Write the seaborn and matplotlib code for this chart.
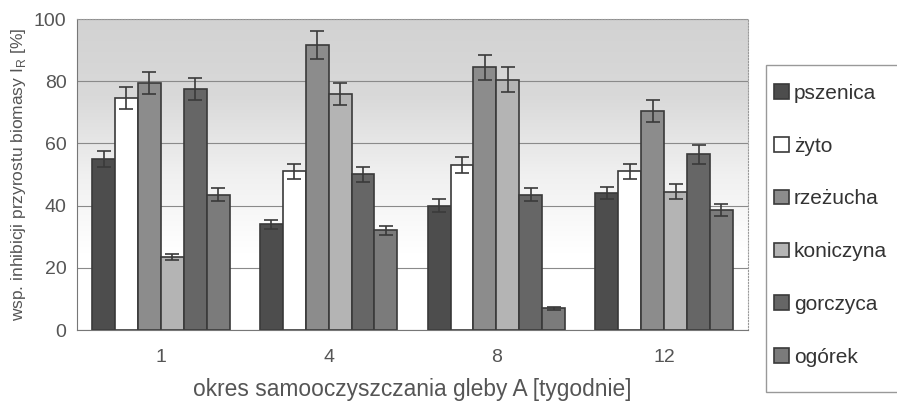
import numpy as np
import pandas as pd
import seaborn as sns
import matplotlib.pyplot as plt
from matplotlib.patches import Rectangle

weeks = ['1', '4', '8', '12']
plants = ['pszenica', 'żyto', 'rzeżucha', 'koniczyna', 'gorczyca', 'ogórek']

pszenica = [55, 34, 40, 44]
zyto = [74.5, 51, 53, 51]
rzezucha = [79.5, 91.5, 84.5, 70.5]
koniczyna = [23.5, 76, 80.5, 44.5]
gorczyca = [77.5, 50, 43.5, 56.5]
ogorek = [43.5, 32, 7, 38.5]

err_pszenica = [2.5, 1.5, 2, 2]
err_zyto = [3.5, 2.5, 2.5, 2.5]
err_rzezucha = [3.5, 4.5, 4, 3.5]
err_koniczyna = [1, 3.5, 4, 2.5]
err_gorczyca = [3.5, 2.5, 2, 3]
err_ogorek = [2, 1.5, 0.5, 2]

values = [pszenica, zyto, rzezucha, koniczyna, gorczyca, ogorek]
errors = [err_pszenica, err_zyto, err_rzezucha, err_koniczyna, err_gorczyca, err_ogorek]

rows = []
for p, vals in zip(plants, values):
    for w, v in zip(weeks, vals):
        rows.append({'okres': w, 'roslina': p, 'wartosc': v})
df = pd.DataFrame(rows)

colors = ['#4d4d4d', '#ffffff', '#8c8c8c', '#b4b4b4', '#666666', '#7b7b7b']
txt = '#555555'

sns.set_style('white')
plt.rcParams['font.family'] = ['Liberation Sans', 'DejaVu Sans']

fig = plt.figure(figsize=(8.97, 4.15), dpi=100)
ax = fig.add_axes([77 / 897, 1 - 330 / 415, (748 - 77) / 897, (330 - 19) / 415])

# gradient background: grey at top, white at bottom
grad = np.linspace(0, 1, 256).reshape(-1, 1)
ax.imshow(grad, extent=[-0.5, 3.5, 0, 100], aspect='auto', origin='lower',
          cmap=plt.matplotlib.colors.LinearSegmentedColormap.from_list(
              'bg', ['#ffffff', '#ffffff', '#f0f0f0', '#d9d9d9', '#d2d2d2']),
          zorder=0)

sns.barplot(data=df, x='okres', y='wartosc', hue='roslina', palette=colors,
            width=0.82, edgecolor='#3a3a3a', linewidth=1.2, errorbar=None,
            ax=ax, zorder=2)

for cont, err in zip(ax.containers, errors):
    xs = [b.get_x() + b.get_width() / 2 for b in cont]
    hs = [b.get_height() for b in cont]
    ax.errorbar(xs, hs, yerr=err, fmt='none', ecolor='#3a3a3a',
                elinewidth=1.2, capsize=5, capthick=1.2, zorder=3)

ax.set_ylim(0, 100)
ax.set_xlim(-0.5, 3.5)
ax.set_yticks([0, 20, 40, 60, 80, 100])
ax.yaxis.grid(True, color='#8a8a8a', linewidth=0.8, zorder=1)
ax.set_axisbelow(True)
ax.set_xticks([-0.5, 0.5, 1.5, 2.5, 3.5], minor=True)
ax.tick_params(axis='x', which='major', length=0, labelsize=14, colors=txt, pad=14)
ax.tick_params(axis='x', which='minor', length=4, color='#888888')
ax.tick_params(axis='y', length=4, labelsize=14, colors=txt, color='#888888')

for side in ['top', 'right']:
    ax.spines[side].set_linestyle(':')
    ax.spines[side].set_color('#999999')
for side in ['left', 'bottom']:
    ax.spines[side].set_color('#777777')

ax.set_xlabel('okres samooczyszczania gleby A [tygodnie]', fontsize=16.4, color=txt, labelpad=8)
ax.set_ylabel('wsp. inhibicji przyrostu biomasy I$_\\mathregular{R}$ [%]', fontsize=12.5, color=txt,
              labelpad=4)

# legend frame drawn separately so the box can run off the right edge
fig.patches.append(Rectangle((766 / 897, 1 - 392 / 415), 140 / 897, 327 / 415,
                             transform=fig.transFigure, facecolor='white',
                             edgecolor='#999999', linewidth=1, zorder=-1))

handles, labels = ax.get_legend_handles_labels()
ax.get_legend().remove()
leg = fig.legend(handles, labels, loc='upper left', bbox_to_anchor=(774 / 897, 1 - 84 / 415),
                 frameon=False, fontsize=15,
                 labelspacing=1.62, handlelength=0.7, handleheight=0.7, handletextpad=0.25,
                 borderpad=0, borderaxespad=0)
leg.set_zorder(5)
for t in leg.get_texts():
    t.set_color('#333333')

fig.savefig('out.png', dpi=100)
